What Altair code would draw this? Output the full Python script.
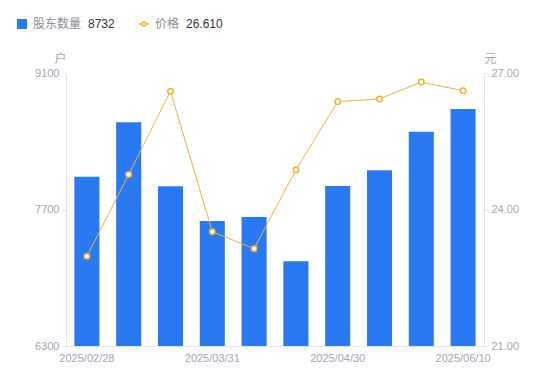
import altair as alt
import pandas as pd

dates = ["2025/02/28", "2025/03/10", "2025/03/20", "2025/03/31", "2025/04/10",
         "2025/04/20", "2025/04/30", "2025/05/20", "2025/05/30", "2025/06/10"]
holders = [8035, 8595, 7938, 7582, 7623, 7169, 7941, 8102, 8498, 8732]
prices = [22.97, 24.77, 26.60, 23.51, 23.14, 24.87, 26.37, 26.43, 26.80, 26.61]
shown_dates = ["2025/02/28", "2025/03/31", "2025/04/30", "2025/06/10"]
left_ticks = [6300, 7700, 9100]
right_ticks = [21, 24, 27]
series_bar = "股东数量"
series_line = "价格"
last_holders = "8732"
last_price = "26.610"

df = pd.DataFrame({"date": dates, "holders": holders, "price": prices,
                   "s1": series_bar, "s2": series_line})

FONT = "Liberation Sans, Noto Sans CJK SC, sans-serif"
BLUE = "#2979F2"
ORANGE = "#F5B133"
AXIS_C = "#a3a5b3"
DOMAIN_C = "#e3e5ea"

x = alt.X("date:N", sort=None,
          scale=alt.Scale(paddingInner=0.4, paddingOuter=0.2),
          axis=alt.Axis(values=shown_dates, title=None, labelAngle=0, ticks=False,
                        domainColor=DOMAIN_C, labelColor=AXIS_C, labelFontSize=11,
                        labelPadding=6, grid=False, labelFont=FONT))

bars = alt.Chart(df).mark_bar(color=BLUE, clip=True).encode(
    x=x,
    y=alt.Y("holders:Q",
            scale=alt.Scale(domain=[6300, 9100], nice=False, zero=False),
            axis=alt.Axis(values=left_ticks, format="d", title="户", titleAngle=0, titleX=-6,
                          titleY=-11, titleAlign="center", titleBaseline="alphabetic",
                          titleColor=AXIS_C, titleFontWeight="normal", titleFontSize=12,
                          titleFont=FONT, labelColor=AXIS_C, labelFontSize=11, labelFont=FONT,
                          tickColor=DOMAIN_C, tickSize=4, labelPadding=3,
                          domainColor=DOMAIN_C, grid=False)),
    color=alt.Color("s1:N", scale=alt.Scale(range=[BLUE]),
                    legend=alt.Legend(title=last_holders, titleOrient="right", orient="none",
                                      legendX=-50, legendY=-55, symbolType="square",
                                      symbolSize=100, symbolStrokeWidth=0)),
)

line = alt.Chart(df).mark_line(
    strokeWidth=1,
    point=alt.OverlayMarkDef(filled=False, fill="white", size=30, strokeWidth=1.5),
).encode(
    x=x,
    y=alt.Y("price:Q",
            scale=alt.Scale(domain=[21, 27], nice=False, zero=False),
            axis=alt.Axis(orient="right", values=right_ticks, format=".2f", title="元",
                          titleAngle=0, titleX=6, titleY=-11, titleAlign="center",
                          titleBaseline="alphabetic", titleColor=AXIS_C,
                          titleFontWeight="normal", titleFontSize=12, titleFont=FONT,
                          labelColor=AXIS_C, labelFontSize=11, labelFont=FONT,
                          tickColor=DOMAIN_C, tickSize=4, labelPadding=3,
                          domainColor=DOMAIN_C, grid=False)),
    stroke=alt.Stroke("s2:N", scale=alt.Scale(range=[ORANGE]),
                      legend=alt.Legend(title=last_price, titleOrient="right", orient="none",
                                        legendX=72, legendY=-55,
                                        symbolType="M-1,0H-0.38M0.38,0H1M0.38,0A0.38,0.38,0,1,1,-0.38,0A0.38,0.38,0,1,1,0.38,0Z",
                                        symbolSize=100, symbolStrokeWidth=1.5,
                                        symbolFillColor="white")),
)

chart = alt.layer(bars, line).resolve_scale(y="independent").properties(
    width=418, height=273,
    autosize=alt.AutoSizeParams(type="none"),
    padding={"left": 58, "top": 65, "right": 58, "bottom": 27},
).configure_view(stroke=None).configure_legend(
    padding=0, labelFont=FONT, labelFontSize=12, labelColor="#8c8c96", labelOffset=5,
    titleFont=FONT, titleFontSize=12, titleColor="#333333", titleFontWeight="normal",
    titlePadding=7,
)

chart.save("out.html", embed_options={"renderer": "svg", "actions": False})
